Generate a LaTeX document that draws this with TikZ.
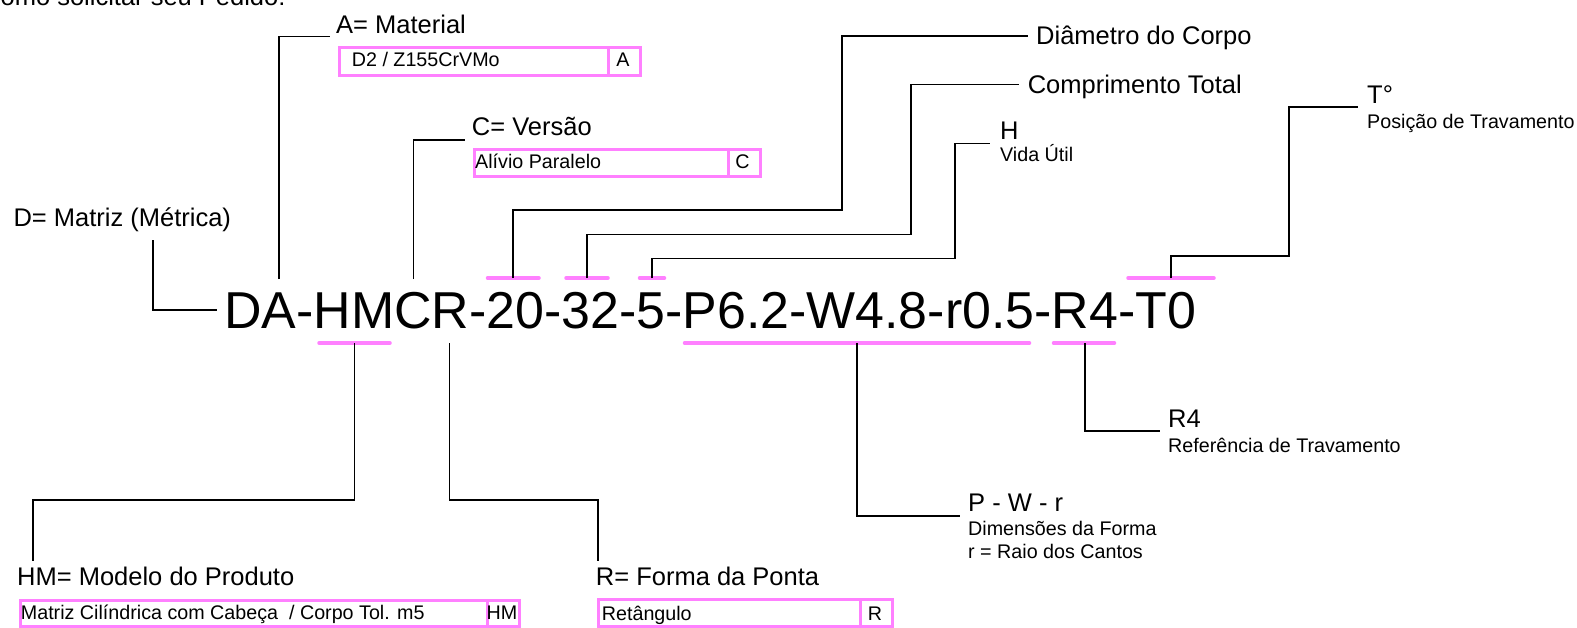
\documentclass[tikz,border=0pt]{standalone}
\usepackage{fontspec}
\setmainfont{Liberation Sans}
\definecolor{pinkc}{RGB}{255,128,255}
\begin{document}
\begin{tikzpicture}[x=1pt,y=-1pt,
  big/.style={font=\fontsize{25.5}{30}\selectfont, inner sep=0pt, anchor=base west},
  small/.style={font=\fontsize{19.7}{23}\selectfont, inner sep=0pt, anchor=base west},
  codefont/.style={font=\fontsize{51.9}{60}\selectfont, inner sep=0pt, anchor=base west},
  cell/.style={draw=pinkc, line width=3pt, inner sep=0pt, anchor=north west},
  celltext/.style={font=\fontsize{19.7}{23}\selectfont, inner sep=0pt, anchor=base west},
  conn/.style={draw=black, line width=1.6pt},
  uline/.style={draw=pinkc, line width=3.5pt, line cap=round},
]
\useasboundingbox (0,0) rectangle (1577,627);
\clip (0,0) rectangle (1577,627);

% heading (cut off at the top, as in the reference)
\node[big] (title) at (-18,5) {Como solicitar seu Pedido:};

% main code
\node[codefont] (code) at (224,328) {DA-HMCR-20-32-5-P6.2-W4.8-r0.5-R4-T0};

% underline anchor points
\coordinate (uA) at (279,279);
\coordinate (uC) at (413.5,279);
\coordinate (u20) at (513,278);
\coordinate (u32) at (587,278);
\coordinate (u5) at (652,278);
\coordinate (uT) at (1171,278);
\coordinate (uHM) at (354.5,343);
\coordinate (uR) at (449.5,343);
\coordinate (uPW) at (857,343);
\coordinate (uR4) at (1085,343);
\coordinate (uD) at (217,310);
\coordinate (dTop) at (153,240);
\coordinate (hmBend) at (33,500);
\coordinate (rBend) at (598,500);
\coordinate (diamBend) at (842,210);
\coordinate (compBend) at (911,234.5);
\coordinate (hBend) at (955,258.5);
\coordinate (tBend) at (1289,256);

% pink underlines
\draw[uline] (487.5,278) -- (539,278);
\draw[uline] (566,278) -- (608,278);
\draw[uline] (639.5,278) -- (664.5,278);
\draw[uline] (1128,278) -- (1214,278);
\draw[uline] (319,343) -- (390,343);
\draw[uline] (684.5,343) -- (1029.5,343);
\draw[uline] (1053.5,343) -- (1114.5,343);

% labels
\node[big] (Albl) at (336,33) {A= Material};
\node[big] (Clbl) at (471.7,135) {C= Versão};
\node[big] (Dlbl) at (13.3,226) {D= Matriz (Métrica)};
\node[big] (HMlbl) at (17,585.7) {HM= Modelo do Produto};
\node[big] (Rlbl) at (595.7,585.7) {R= Forma da Ponta};
\node[big] (Diam) at (1036,44.5) {Diâmetro do Corpo};
\node[big] (Comp) at (1027.6,93.3) {Comprimento Total};
\node[big] (Hlbl) at (1000,139.5) {H};
\node[small] (Hsub) at (1000,161) {Vida Útil};
\node[big] (Tlbl) at (1367,103) {T°};
\node[small] (Tsub) at (1367,128) {Posição de Travamento};
\node[big] (R4lbl) at (1168,427.5) {R4};
\node[small] (R4sub) at (1168,452) {Referência de Travamento};
\node[big] (PWlbl) at (968,511) {P - W - r};
\node[small] (PWsub) at (968,535) {Dimensões da Forma};
\node[small] (PWsub2) at (968,558) {r = Raio dos Cantos};

% boxes
\node[cell, minimum width=269pt, minimum height=27.5pt] (boxA) at (338,46) {};
\node[cell, minimum width=32pt, minimum height=27.5pt] (boxAc) at (607,46) {};
\node[celltext] (tA) at (351.7,66.7) {D2 / Z155CrVMo};
\node[celltext, anchor=base] (tAc) at (623,66.7) {A};

\node[cell, minimum width=253.7pt, minimum height=26.5pt] (boxC) at (473,148) {};
\node[cell, minimum width=31.8pt, minimum height=26.5pt] (boxCc) at (726.7,148) {};
\node[celltext] (tC) at (475,168.3) {Alívio Paralelo};
\node[celltext, anchor=base] (tCc) at (742.6,168.3) {C};

\node[cell, minimum width=467.2pt, minimum height=25.5pt] (boxHM) at (18.5,599) {};
\node[cell, minimum width=32.3pt, minimum height=25.5pt] (boxHMc) at (485.7,599) {};
\node[celltext] (tHM) at (20.7,619) {Matriz Cilíndrica com Cabeça\ \ / Corpo Tol. m5};
\node[celltext, anchor=base] (tHMc) at (502,619) {HM};

\node[cell, minimum width=262.5pt, minimum height=26.5pt] (boxR) at (596.5,598) {};
\node[cell, minimum width=32pt, minimum height=26.5pt] (boxRc) at (859,598) {};
\node[celltext] (tR) at (601.7,620) {Retângulo};
\node[celltext, anchor=base] (tRc) at (875,620) {R};

% connectors
\draw[conn] (uA) |- ([xshift=-6pt,yshift=-3.5pt]Albl.base west);
\draw[conn] (uC) |- ([xshift=-7pt,yshift=-5pt]Clbl.base west);
\draw[conn] (dTop) |- (uD);
\draw[conn] (u20) |- (diamBend) |- ([xshift=-8pt,yshift=8.5pt]Diam.base west);
\draw[conn] (u32) |- (compBend) |- ([xshift=-9pt,yshift=9pt]Comp.base west);
\draw[conn] (u5) |- (hBend) |- ([xshift=-10pt,yshift=-4pt]Hlbl.base west);
\draw[conn] (uT) |- (tBend) |- ([xshift=-9pt,yshift=-4pt]Tlbl.base west);
\draw[conn] (uHM) |- (hmBend) -- ([yshift=6pt]HMlbl.north -| hmBend);
\draw[conn] (uR) |- (rBend) -- ([yshift=6pt]Rlbl.north -| rBend);
\draw[conn] (uPW) |- ([xshift=-8pt,yshift=-5pt]PWlbl.base west);
\draw[conn] (uR4) |- ([xshift=-8pt,yshift=-3.5pt]R4lbl.base west);
\end{tikzpicture}
\end{document}
